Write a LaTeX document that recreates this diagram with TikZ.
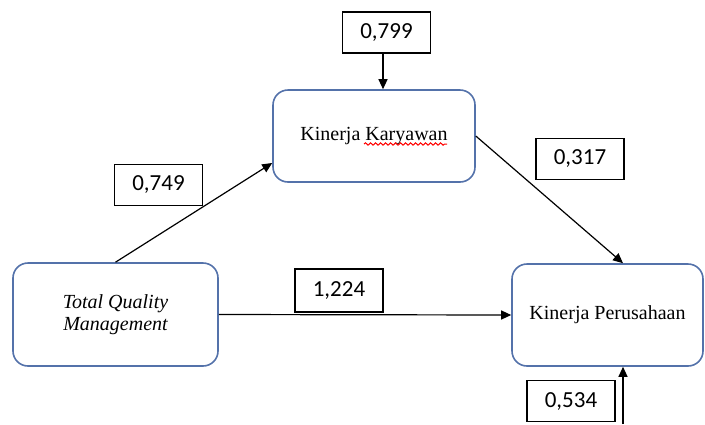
\documentclass[tikz,border=0pt]{standalone}
\usepackage{fontspec}
\setmainfont{Liberation Serif}
\newfontfamily\numfont{Carlito}
\usetikzlibrary{arrows.meta,decorations.pathmorphing}
\definecolor{varblue}{RGB}{84,114,170}

\begin{document}
\begin{tikzpicture}[x=0.5pt,y=-0.5pt,>={Triangle[length=5pt,width=4.5pt]},
  varbox/.style={draw=varblue,line width=0.8pt,rounded corners=7.5pt,inner sep=0pt,align=center,font=\fontsize{10}{11}\selectfont},
  coefbox/.style={draw,line width=0.7pt,minimum width=44pt,minimum height=20.5pt,inner sep=0pt,font=\numfont\fontsize{11.5}{12}\selectfont},
  link/.style={->,line width=0.6pt}]
  \useasboundingbox (0,0) rectangle (705,424);
  \node[varbox,minimum width=101pt,minimum height=46pt] (kk) at (374,136) {Kinerja Karyawan};
  \node[varbox,minimum width=102.5pt,minimum height=51.5pt,font=\fontsize{10}{11}\selectfont\itshape] (tqm) at (115.5,314.5) {Total Quality\\Management};
  \node[varbox,minimum width=95.5pt,minimum height=51pt] (kp) at (607.5,315) {Kinerja Perusahaan};
  \node[coefbox] (c799) at (386.5,32.5) {0,799};
  \node[coefbox] (c749) at (158.5,185) {0,749};
  \node[coefbox] (c317) at (580,159) {0,317};
  \node[coefbox,minimum height=21.5pt] (c1224) at (339,290.5) {1,224};
  \node[coefbox] (c534) at (571,401) {0,534};
  \coordinate (e534) at (623,424);
  % spell-check mark under Karyawan
  \draw[red,line width=0.5pt,decorate,decoration={snake,amplitude=0.6pt,segment length=2.5pt}] ([shift={(-10,8)}]kk.center) -- ([shift={(73,8)}]kk.center);
  \draw[link] ([xshift=-1.75pt]c799.south) -- ([xshift=-1.75pt]c799.south |- kk.north);
  \draw[link] (tqm.north) -- ([yshift=-13.5pt]kk.west);
  \draw[link] (tqm.east) -- (kp.west);
  \draw[link] (kk.east) -- (e534 |- kp.north);
  \draw[link] (e534) -- (e534 |- kp.south);
\end{tikzpicture}
\end{document}
